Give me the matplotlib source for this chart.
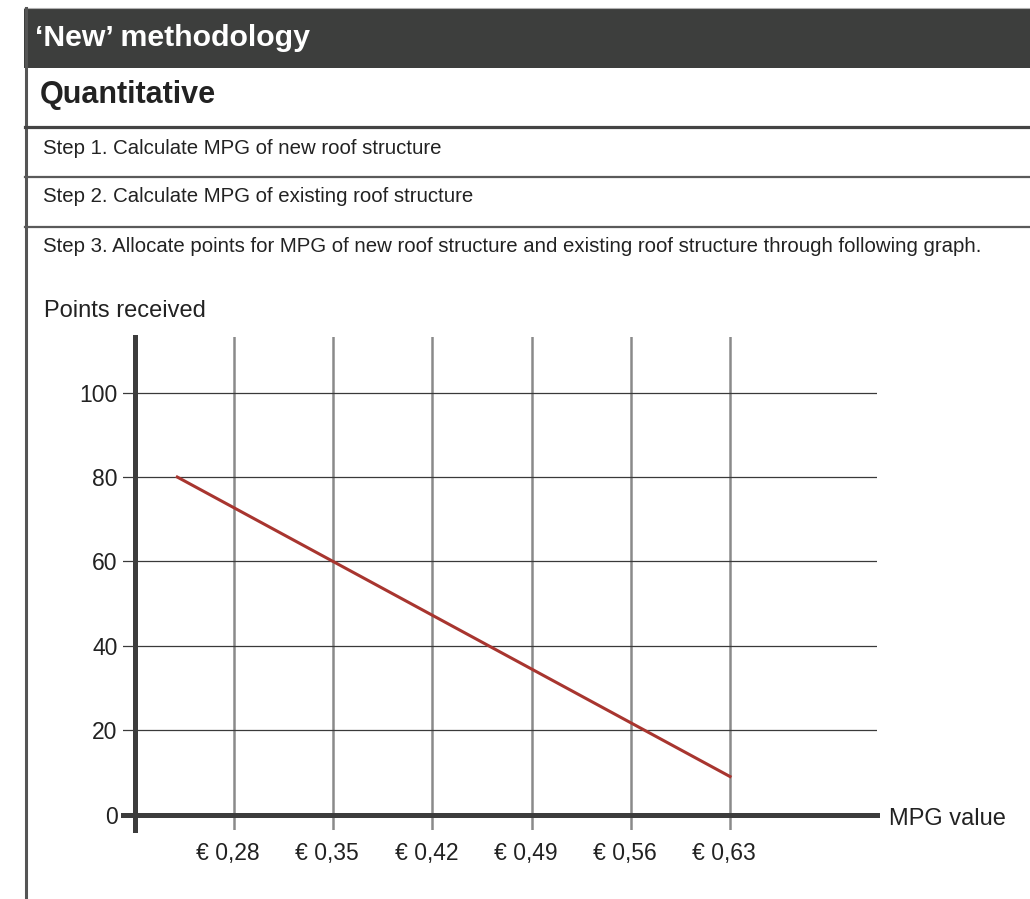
import matplotlib
matplotlib.use('Agg')
import matplotlib.pyplot as plt
from matplotlib.patches import Rectangle
from matplotlib.transforms import ScaledTranslation

plt.rcParams['font.family'] = ['Liberation Sans', 'DejaVu Sans']

# chart data
mpg_ticks = [0.28, 0.35, 0.42, 0.49, 0.56, 0.63]
mpg_labels = ['€ 0,28', '€ 0,35', '€ 0,42', '€ 0,49', '€ 0,56', '€ 0,63']
points_ticks = [0, 20, 40, 60, 80, 100]
line_mpg = [0.24, 0.63]
line_points = [80, 9]

title = '‘New’ methodology'
subtitle = 'Quantitative'
steps = ['Step 1. Calculate MPG of new roof structure',
         'Step 2. Calculate MPG of existing roof structure',
         'Step 3. Allocate points for MPG of new roof structure and existing roof structure through following graph.']

W, H = 1030, 899
fig = plt.figure(figsize=(W / 100, H / 100), dpi=100)

# page layer in pixel coordinates
bg = fig.add_axes([0, 0, 1, 1])
bg.set_xlim(0, W)
bg.set_ylim(H, 0)
bg.axis('off')

bg.add_patch(Rectangle((24, 8), W - 24, 60, facecolor='#3d3e3d', edgecolor='none'))
bg.plot([24, W], [8, 8], color='#b0b0b0', lw=0.8)
bg.plot([25.5, 25.5], [8, H], color='#555555', lw=2.2)
bg.plot([25, W], [126.5, 126.5], color='#444444', lw=2.3)
bg.plot([25, W], [176.5, 176.5], color='#5a5a5a', lw=1.6)
bg.plot([25, W], [227, 227], color='#5a5a5a', lw=1.6)

bg.text(35, 38, title, color='white', fontsize=21.8, fontweight='bold', va='center')
bg.text(40, 95, subtitle, color='#222222', fontsize=22, fontweight='bold', va='center')
for y, s in zip([149, 196, 246], steps):
    bg.text(43, y, s, color='#222222', fontsize=14.7, va='center')

bg.text(44, 311, 'Points received', color='#222222', fontsize=17, va='center')
bg.text(889, 819, 'MPG value', color='#222222', fontsize=17, va='center')

# chart axes
ax = fig.add_axes([123 / W, (H - 830) / H, (877 - 123) / W, (830 - 337) / H])
ax.set_xlim(0.2017, 0.7337)
ax.set_ylim(-3.67, 113.2)
ax.patch.set_alpha(0)

for x in mpg_ticks:
    ax.axvline(x, color='#8a8a8a', lw=1.8, zorder=1)
for y in points_ticks[1:]:
    ax.axhline(y, color='#3a3a3a', lw=0.9, zorder=1)

ax.plot(line_mpg, line_points, color='#a8352f', lw=2.2, zorder=3)

ax.spines['top'].set_visible(False)
ax.spines['right'].set_visible(False)
ax.spines['left'].set_position(('data', 0.2105))
ax.spines['bottom'].set_position(('data', 0))
for sp in ['left', 'bottom']:
    ax.spines[sp].set_color('#3c3c3c')
    ax.spines[sp].set_linewidth(3.6)
    ax.spines[sp].set_zorder(4)

ax.set_xticks(mpg_ticks)
ax.set_xticklabels(mpg_labels)
ax.set_yticks(points_ticks)
ax.tick_params(axis='both', length=0, labelsize=16.5, labelcolor='#222222')
# labels are placed from the moved spines
ax.tick_params(axis='y', pad=13)
ax.tick_params(axis='x', pad=19.5)
for lab in ax.get_xticklabels():
    lab.set_transform(lab.get_transform() + ScaledTranslation(-6 / 100, 0, fig.dpi_scale_trans))

fig.savefig('out.png', dpi=100)
